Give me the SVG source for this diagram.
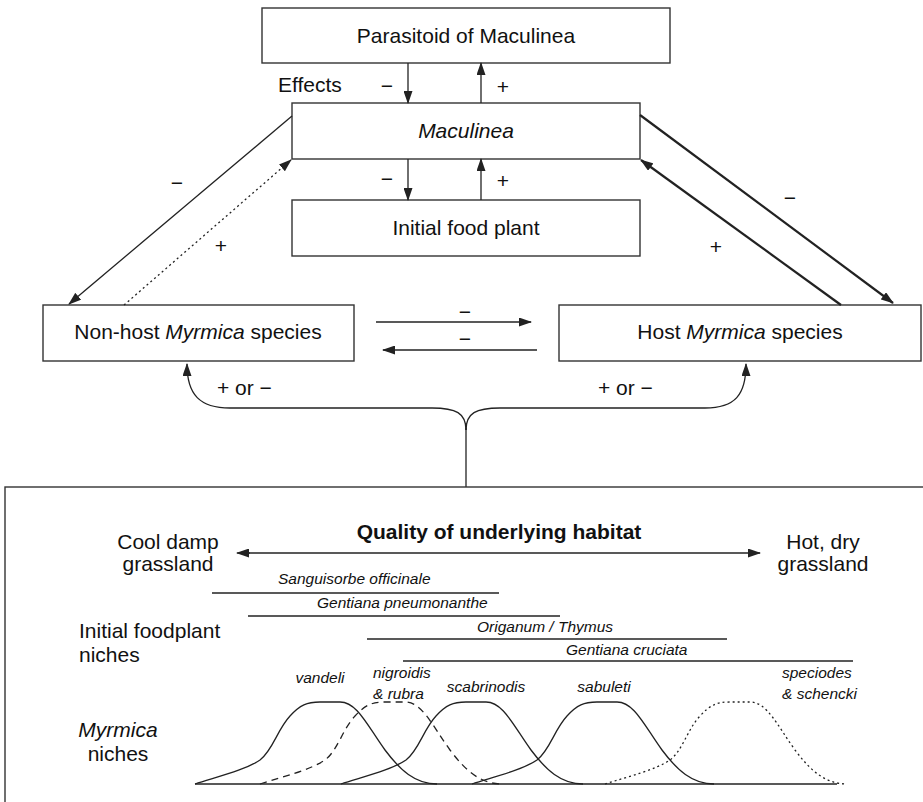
<svg xmlns="http://www.w3.org/2000/svg" width="923" height="802" viewBox="0 0 923 802">
<style>
text{font-family:"Liberation Sans",Arial,sans-serif;fill:#111;}
.t{font-size:21px;}
.m{text-anchor:middle;}
.i{font-style:italic;}
.s{font-size:15.5px;font-style:italic;}
.b{font-weight:bold;}
.box{fill:#fff;stroke:#333;stroke-width:1.4;}
.ln{fill:none;stroke:#222;stroke-width:1.3;}
.thick{fill:none;stroke:#222;stroke-width:2.2;}
.dot{fill:none;stroke:#222;stroke-width:1.3;stroke-dasharray:2,3;}
.dash{fill:none;stroke:#222;stroke-width:1.3;stroke-dasharray:7,5;}
</style>
<defs>
<marker id="ah" markerWidth="13" markerHeight="9" refX="12" refY="4.5" orient="auto" markerUnits="userSpaceOnUse">
<path d="M0,0 L13,4.5 L0,9 z" fill="#222"/>
</marker>
<path id="bell" d="M0,784 C25,776 50,770 65,760 C78,750 82,730 95,716 C105,705 112,702 125,702 L145,702 C162,702 172,725 190,750 C205,770 220,784 242,784"/>
</defs>

<g id="parasitoid">
<rect class="box" x="262" y="8" width="408" height="55"/>
<text class="t m" x="466" y="43">Parasitoid of Maculinea</text>
</g>
<g id="maculinea">
<rect class="box" x="292" y="103" width="348" height="56"/>
<text class="t m i" x="466" y="138">Maculinea</text>
</g>
<g id="foodplant">
<rect class="box" x="292" y="200" width="348" height="56"/>
<text class="t m" x="466" y="235">Initial food plant</text>
</g>
<g id="nonhost">
<rect class="box" x="43" y="305" width="311" height="56"/>
<text class="t m" x="198" y="339">Non-host <tspan class="i">Myrmica</tspan> species</text>
</g>
<g id="host">
<rect class="box" x="559" y="305" width="362" height="56"/>
<text class="t m" x="740" y="339">Host <tspan class="i">Myrmica</tspan> species</text>
</g>

<g id="connectors">
<line class="ln" x1="408" y1="63" x2="408" y2="103" marker-end="url(#ah)"/>
<line class="ln" x1="481" y1="103" x2="481" y2="63" marker-end="url(#ah)"/>
<line class="ln" x1="408" y1="159" x2="408" y2="200" marker-end="url(#ah)"/>
<line class="ln" x1="481" y1="200" x2="481" y2="159" marker-end="url(#ah)"/>
<line class="ln" x1="292" y1="116" x2="69" y2="304" marker-end="url(#ah)"/>
<line class="dot" x1="124" y1="305" x2="291" y2="160" marker-end="url(#ah)"/>
<line class="thick" x1="640" y1="115" x2="893" y2="303" marker-end="url(#ah)"/>
<line class="thick" x1="841" y1="305" x2="641" y2="160" marker-end="url(#ah)"/>
<line class="ln" x1="376" y1="322" x2="531" y2="322" marker-end="url(#ah)"/>
<line class="ln" x1="537" y1="350" x2="383" y2="350" marker-end="url(#ah)"/>
<path class="ln" d="M466,430 C466,413 456,408 432,408 L230,408 C200,408 187,395 187,364" marker-end="url(#ah)"/>
<path class="ln" d="M466,430 C466,413 476,408 500,408 L705,408 C735,408 746,395 746,364" marker-end="url(#ah)"/>
<line class="ln" x1="466" y1="428" x2="466" y2="487"/>
</g>

<g id="labels">
<text class="t" x="278" y="92">Effects</text>
<text class="t m" x="387" y="93">−</text>
<text class="t m" x="503" y="94">+</text>
<text class="t m" x="387" y="186">−</text>
<text class="t m" x="503" y="188">+</text>
<text class="t m" x="177" y="190">−</text>
<text class="t m" x="221" y="253">+</text>
<text class="t m" x="790" y="205">−</text>
<text class="t m" x="716" y="254">+</text>
<text class="t m" x="465" y="319">−</text>
<text class="t m" x="465" y="346">−</text>
<text class="t" x="217" y="395">+ or −</text>
<text class="t" x="598" y="395">+ or −</text>
</g>

<g id="habitat">
<rect class="box" x="5" y="487" width="940" height="400"/>
<text class="t m b" x="499" y="539">Quality of underlying habitat</text>
<line class="ln" x1="250" y1="553" x2="237" y2="553" marker-end="url(#ah)"/>
<line class="ln" x1="240" y1="553" x2="760" y2="553" marker-end="url(#ah)"/>
<text class="t m" x="168" y="549">Cool damp</text>
<text class="t m" x="168" y="571">grassland</text>
<text class="t m" x="823" y="549">Hot, dry</text>
<text class="t m" x="823" y="571">grassland</text>
<text class="t" x="79" y="638">Initial foodplant</text>
<text class="t" x="79" y="662">niches</text>
<text class="t m i" x="118" y="737">Myrmica</text>
<text class="t m" x="118" y="761">niches</text>

<text class="s" x="278" y="584">Sanguisorbe officinale</text>
<line class="ln" x1="212" y1="593" x2="499" y2="593"/>
<text class="s" x="317" y="608">Gentiana pneumonanthe</text>
<line class="ln" x1="248" y1="616" x2="560" y2="616"/>
<text class="s" x="477" y="632">Origanum / Thymus</text>
<line class="ln" x1="367" y1="639" x2="727" y2="639"/>
<text class="s" x="566" y="655">Gentiana cruciata</text>
<line class="ln" x1="403" y1="661" x2="853" y2="661"/>

<line class="ln" x1="195" y1="784" x2="837" y2="784"/>
<use href="#bell" class="ln" transform="translate(195,0)"/>
<use href="#bell" class="dash" transform="translate(260,0)"/>
<use href="#bell" class="ln" transform="translate(341,0)"/>
<use href="#bell" class="ln" transform="translate(472,0)"/>
<use href="#bell" class="dot" transform="translate(605,0)"/>

<text class="s m" x="320" y="683">vandeli</text>
<text class="s" x="373" y="678">nigroidis</text>
<text class="s" x="373" y="699">&amp; rubra</text>
<text class="s m" x="486" y="692">scabrinodis</text>
<text class="s m" x="604" y="692">sabuleti</text>
<text class="s" x="782" y="678">speciodes</text>
<text class="s" x="782" y="699">&amp; schencki</text>
</g>
</svg>
